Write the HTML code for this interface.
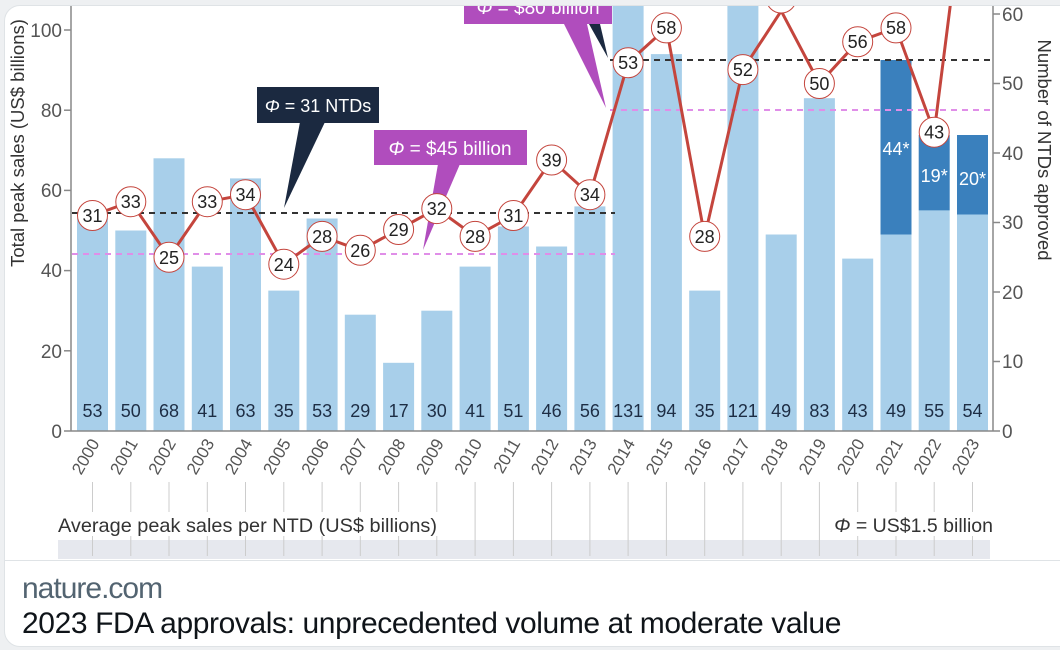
<!DOCTYPE html>
<html><head><meta charset="utf-8"><style>
html,body{margin:0;padding:0;background:#eef0f2;width:1060px;height:650px;overflow:hidden;}
body{position:relative;font-family:"Liberation Sans",sans-serif;}
.card{position:absolute;left:4px;top:5px;width:1070px;height:640px;background:#fff;border-radius:16px;border:1px solid #dfe3e6;overflow:hidden;}
.foot{position:absolute;left:4px;top:560px;width:1070px;border-top:1px solid #dfe3e6;}
.src{position:absolute;left:22px;top:572px;font-size:30px;color:#536471;letter-spacing:-1px;}
.ttl{position:absolute;left:22px;top:607px;font-size:30px;color:#0f1419;letter-spacing:-0.4px;}
svg{position:absolute;left:0;top:0;}
</style></head><body>
<div class="card"></div>
<svg width="1060" height="560" viewBox="0 0 1060 560" font-family="Liberation Sans, sans-serif">
<defs><clipPath id="c"><rect x="4" y="6" width="1060" height="560"/></clipPath></defs>
<g clip-path="url(#c)">
<g fill="#a8cfea">
<rect x="77" y="218.5" width="31" height="212.5"/>
<rect x="115.3" y="230.5" width="31" height="200.5"/>
<rect x="153.5" y="158.3" width="31" height="272.7"/>
<rect x="191.8" y="266.6" width="31" height="164.4"/>
<rect x="230" y="178.4" width="31" height="252.6"/>
<rect x="268.3" y="290.6" width="31" height="140.4"/>
<rect x="306.6" y="218.5" width="31" height="212.5"/>
<rect x="344.8" y="314.7" width="31" height="116.3"/>
<rect x="383.1" y="362.8" width="31" height="68.2"/>
<rect x="421.3" y="310.7" width="31" height="120.3"/>
<rect x="459.6" y="266.6" width="31" height="164.4"/>
<rect x="497.9" y="226.5" width="31" height="204.5"/>
<rect x="536.1" y="246.5" width="31" height="184.5"/>
<rect x="574.4" y="206.4" width="31" height="224.6"/>
<rect x="612.6" y="0" width="31" height="431"/>
<rect x="650.9" y="54.1" width="31" height="376.9"/>
<rect x="689.2" y="290.6" width="31" height="140.4"/>
<rect x="727.4" y="0" width="31" height="431"/>
<rect x="765.7" y="234.5" width="31" height="196.5"/>
<rect x="803.9" y="98.2" width="31" height="332.8"/>
<rect x="842.2" y="258.6" width="31" height="172.4"/>
<rect x="880.5" y="234.5" width="31" height="196.5"/>
<rect x="918.7" y="210.4" width="31" height="220.6"/>
<rect x="957" y="214.5" width="31" height="216.5"/>
</g>
<g fill="#3a80bd">
<rect x="880.5" y="60" width="31" height="174.5"/>
<rect x="918.7" y="135" width="31" height="75.4"/>
<rect x="957" y="135" width="31" height="79.5"/>
</g>
<g font-size="18" fill="#fff" text-anchor="middle">
<text x="896" y="155">44*</text><text x="934.2" y="182">19*</text><text x="972.5" y="185">20*</text>
</g>
<g stroke-width="2" stroke-dasharray="6,5" fill="none">
<line x1="72" y1="213" x2="615" y2="213" stroke="#333"/>
<line x1="72" y1="254" x2="615" y2="254" stroke="#e08ee8"/>
<line x1="610" y1="60" x2="990" y2="60" stroke="#333"/>
<line x1="610" y1="110" x2="990" y2="110" stroke="#e08ee8"/>
</g>
<polygon points="300,122 325,122 284,208" fill="#1b2940"/>
<rect x="257" y="87" width="122" height="36" fill="#1b2940"/>
<text x="318" y="112" font-size="18" fill="#fff" text-anchor="middle"><tspan font-style="italic">Φ</tspan> = 31 NTDs</text>
<polygon points="438,164 460,164 423,250" fill="#b04dbd"/>
<rect x="374" y="130" width="153" height="35" fill="#b04dbd"/>
<text x="450" y="155" font-size="19" fill="#fff" text-anchor="middle"><tspan font-style="italic">Φ</tspan> = $45 billion</text>
<polygon points="589,24 600,24 608,58" fill="#1b2940"/>
<polygon points="564,24 587,24 606,108" fill="#b04dbd"/>
<rect x="464" y="-12" width="148" height="36" fill="#b04dbd"/>
<text x="538" y="14" font-size="19" fill="#fff" text-anchor="middle"><tspan font-style="italic">Φ</tspan> = $80 billion</text>
<polyline fill="none" stroke="#c4453d" stroke-width="3" points="92.5,215.5 130.8,201.7 169,257.3 207.3,201.7 245.5,194.7 283.8,264.2 322.1,236.4 360.3,250.3 398.6,229.5 436.8,208.6 475.1,236.4 513.4,215.5 551.6,160 589.9,194.7 628.1,62.7 666.4,27.9 704.7,236.4 742.9,69.6 781.2,10.9 819.4,83.5 857.7,41.8 896,27.9 934.2,132.2 972.5,-170"/>
<g fill="#fff" stroke="#c4453d" stroke-width="1">
<circle cx="92.5" cy="215.5" r="15"/><circle cx="130.8" cy="201.7" r="15"/><circle cx="169" cy="257.3" r="15"/><circle cx="207.3" cy="201.7" r="15"/><circle cx="245.5" cy="194.7" r="15"/><circle cx="283.8" cy="264.2" r="15"/><circle cx="322.1" cy="236.4" r="15"/><circle cx="360.3" cy="250.3" r="15"/><circle cx="398.6" cy="229.5" r="15"/><circle cx="436.8" cy="208.6" r="15"/><circle cx="475.1" cy="236.4" r="15"/><circle cx="513.4" cy="215.5" r="15"/><circle cx="551.6" cy="160" r="15"/><circle cx="589.9" cy="194.7" r="15"/><circle cx="628.1" cy="62.7" r="15"/><circle cx="666.4" cy="27.9" r="15"/><circle cx="704.7" cy="236.4" r="15"/><circle cx="742.9" cy="69.6" r="15"/><circle cx="781.2" cy="-2" r="15"/><circle cx="819.4" cy="83.5" r="15"/><circle cx="857.7" cy="41.8" r="15"/><circle cx="896" cy="27.9" r="15"/><circle cx="934.2" cy="132.2" r="15"/>
</g>
<g font-size="18" fill="#222" text-anchor="middle">
<text x="92.5" y="222">31</text><text x="130.8" y="208">33</text><text x="169" y="264">25</text><text x="207.3" y="208">33</text><text x="245.5" y="201">34</text><text x="283.8" y="271">24</text><text x="322.1" y="243">28</text><text x="360.3" y="257">26</text><text x="398.6" y="236">29</text><text x="436.8" y="215">32</text><text x="475.1" y="243">28</text><text x="513.4" y="222">31</text><text x="551.6" y="166.5">39</text><text x="589.9" y="201">34</text><text x="628.1" y="69">53</text><text x="666.4" y="34">58</text><text x="704.7" y="243">28</text><text x="742.9" y="76">52</text><text x="819.4" y="90">50</text><text x="857.7" y="48">56</text><text x="896" y="34">58</text><text x="934.2" y="138.5">43</text>
</g>
</g>
<g font-size="18" fill="#1d2d44" text-anchor="middle">
<text x="92.5" y="417">53</text><text x="130.8" y="417">50</text><text x="169" y="417">68</text><text x="207.3" y="417">41</text><text x="245.5" y="417">63</text><text x="283.8" y="417">35</text><text x="322.1" y="417">53</text><text x="360.3" y="417">29</text><text x="398.6" y="417">17</text><text x="436.8" y="417">30</text><text x="475.1" y="417">41</text><text x="513.4" y="417">51</text><text x="551.6" y="417">46</text><text x="589.9" y="417">56</text><text x="628.1" y="417">131</text><text x="666.4" y="417">94</text><text x="704.7" y="417">35</text><text x="742.9" y="417">121</text><text x="781.2" y="417">49</text><text x="819.4" y="417">83</text><text x="857.7" y="417">43</text><text x="896" y="417">49</text><text x="934.2" y="417">55</text><text x="972.5" y="417">54</text>
</g>
<g stroke="#888" stroke-width="1.5">
<line x1="71" y1="6" x2="71" y2="431"/>
<line x1="71" y1="431" x2="993" y2="431"/>
<line x1="993" y1="6" x2="993" y2="431"/>
<line x1="64" y1="431" x2="71" y2="431"/><line x1="64" y1="350.8" x2="71" y2="350.8"/><line x1="64" y1="270.6" x2="71" y2="270.6"/><line x1="64" y1="190.4" x2="71" y2="190.4"/><line x1="64" y1="110.2" x2="71" y2="110.2"/><line x1="64" y1="30" x2="71" y2="30"/>
<line x1="993" y1="431" x2="1000" y2="431"/><line x1="993" y1="361.5" x2="1000" y2="361.5"/><line x1="993" y1="292" x2="1000" y2="292"/><line x1="993" y1="222.5" x2="1000" y2="222.5"/><line x1="993" y1="153" x2="1000" y2="153"/><line x1="993" y1="83.5" x2="1000" y2="83.5"/><line x1="993" y1="14" x2="1000" y2="14"/>
</g>
<g font-size="19" fill="#555" text-anchor="end">
<text x="62" y="438">0</text><text x="62" y="358">20</text><text x="62" y="277">40</text><text x="62" y="197">60</text><text x="62" y="117">80</text><text x="62" y="37">100</text>
</g>
<g font-size="19" fill="#555">
<text x="1002" y="438">0</text><text x="1002" y="368">10</text><text x="1002" y="299">20</text><text x="1002" y="229">30</text><text x="1002" y="160">40</text><text x="1002" y="90">50</text><text x="1002" y="21">60</text>
</g>
<text transform="translate(24,143) rotate(-90)" font-size="18.5" fill="#333" text-anchor="middle">Total peak sales (US$ billions)</text>
<text transform="translate(1038,150) rotate(90)" font-size="18.5" fill="#333" text-anchor="middle">Number of NTDs approved</text>
<g font-size="17" fill="#555" text-anchor="end">
<text transform="translate(100,443) rotate(-60)">2000</text><text transform="translate(138.3,443) rotate(-60)">2001</text><text transform="translate(176.5,443) rotate(-60)">2002</text><text transform="translate(214.8,443) rotate(-60)">2003</text><text transform="translate(253,443) rotate(-60)">2004</text><text transform="translate(291.3,443) rotate(-60)">2005</text><text transform="translate(329.6,443) rotate(-60)">2006</text><text transform="translate(367.8,443) rotate(-60)">2007</text><text transform="translate(406.1,443) rotate(-60)">2008</text><text transform="translate(444.3,443) rotate(-60)">2009</text><text transform="translate(482.6,443) rotate(-60)">2010</text><text transform="translate(520.9,443) rotate(-60)">2011</text><text transform="translate(559.1,443) rotate(-60)">2012</text><text transform="translate(597.4,443) rotate(-60)">2013</text><text transform="translate(635.6,443) rotate(-60)">2014</text><text transform="translate(673.9,443) rotate(-60)">2015</text><text transform="translate(712.2,443) rotate(-60)">2016</text><text transform="translate(750.4,443) rotate(-60)">2017</text><text transform="translate(788.7,443) rotate(-60)">2018</text><text transform="translate(826.9,443) rotate(-60)">2019</text><text transform="translate(865.2,443) rotate(-60)">2020</text><text transform="translate(903.5,443) rotate(-60)">2021</text><text transform="translate(941.7,443) rotate(-60)">2022</text><text transform="translate(980,443) rotate(-60)">2023</text>
</g>
<rect x="58" y="540" width="932" height="19" fill="#e6e8ee"/>
<g stroke="#ccc" stroke-width="1">
<line x1="92.5" y1="482" x2="92.5" y2="556"/><line x1="130.8" y1="482" x2="130.8" y2="556"/><line x1="169" y1="482" x2="169" y2="556"/><line x1="207.3" y1="482" x2="207.3" y2="556"/><line x1="245.5" y1="482" x2="245.5" y2="556"/><line x1="283.8" y1="482" x2="283.8" y2="556"/><line x1="322.1" y1="482" x2="322.1" y2="556"/><line x1="360.3" y1="482" x2="360.3" y2="556"/><line x1="398.6" y1="482" x2="398.6" y2="556"/><line x1="436.8" y1="482" x2="436.8" y2="556"/><line x1="475.1" y1="482" x2="475.1" y2="556"/><line x1="513.4" y1="482" x2="513.4" y2="556"/><line x1="551.6" y1="482" x2="551.6" y2="556"/><line x1="589.9" y1="482" x2="589.9" y2="556"/><line x1="628.1" y1="482" x2="628.1" y2="556"/><line x1="666.4" y1="482" x2="666.4" y2="556"/><line x1="704.7" y1="482" x2="704.7" y2="556"/><line x1="742.9" y1="482" x2="742.9" y2="556"/><line x1="781.2" y1="482" x2="781.2" y2="556"/><line x1="819.4" y1="482" x2="819.4" y2="556"/><line x1="857.7" y1="482" x2="857.7" y2="556"/><line x1="896" y1="482" x2="896" y2="556"/><line x1="934.2" y1="482" x2="934.2" y2="556"/><line x1="972.5" y1="482" x2="972.5" y2="556"/>
</g>
<rect x="56" y="512" width="384" height="24" fill="#fff"/>
<rect x="832" y="512" width="162" height="24" fill="#fff"/>
<text x="58" y="532" font-size="19.5" fill="#333" textLength="379" lengthAdjust="spacingAndGlyphs">Average peak sales per NTD (US$ billions)</text>
<text x="993" y="532" font-size="19.5" fill="#333" text-anchor="end"><tspan font-style="italic">Φ</tspan> = US$1.5 billion</text>
</svg>
<div class="foot"></div>
<div class="src">nature.com</div>
<div class="ttl">2023 FDA approvals: unprecedented volume at moderate value</div>
</body></html>
